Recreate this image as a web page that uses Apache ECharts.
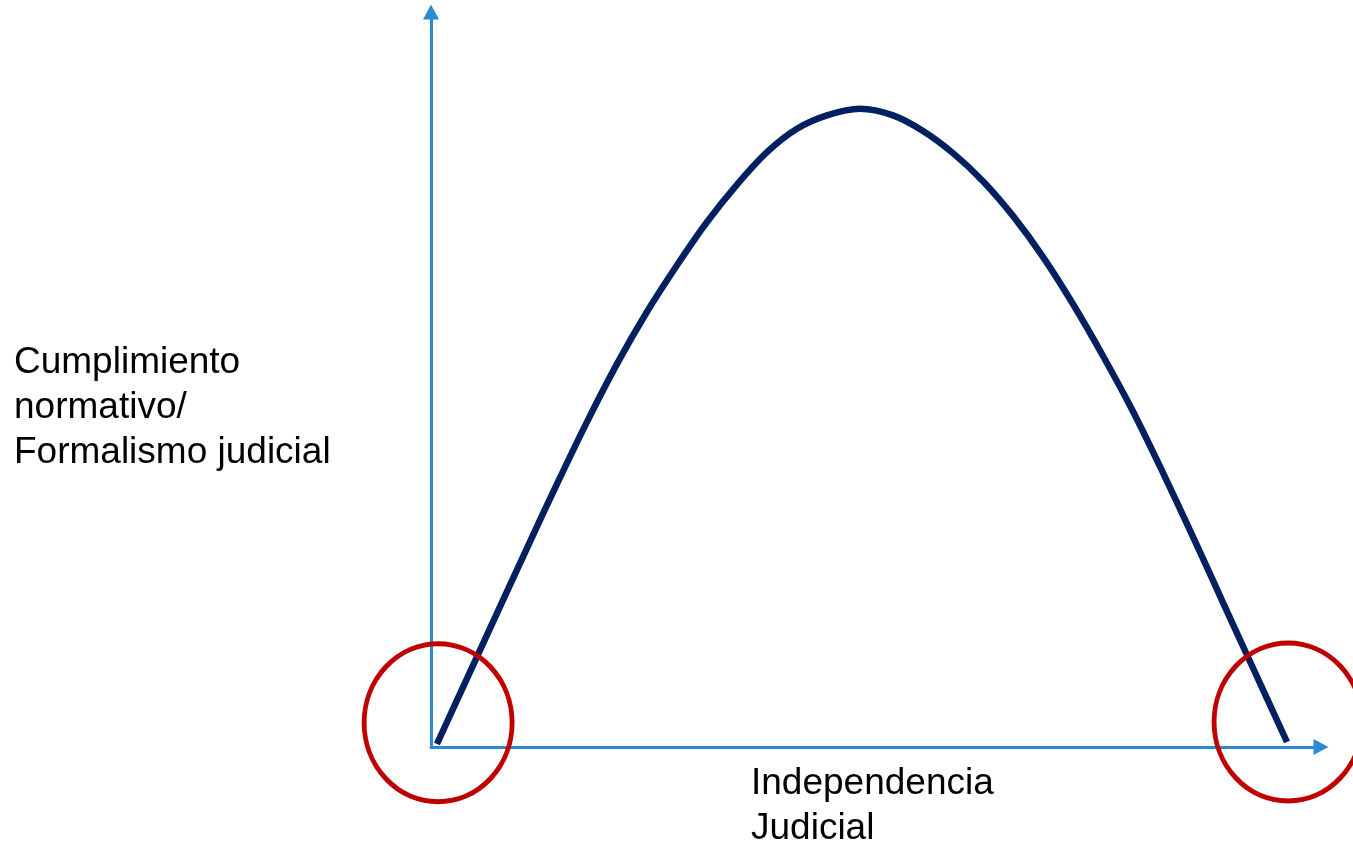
<!DOCTYPE html>
<html>
<head>
<meta charset="utf-8">
<script src="https://cdn.jsdelivr.net/npm/echarts@6/dist/echarts.min.js"></script>
<style>
  html, body { margin: 0; padding: 0; background: #fff; }
  #chart { width: 1353px; height: 842px; }
</style>
</head>
<body>
<div id="chart"></div>
<script>
// curve (x: independencia, y: cumplimiento), 0..100 scale
var curveX = [0.67, 4.04, 7.42, 10.79, 14.16, 17.53, 20.9, 24.27, 27.64, 31.01, 34.38, 37.75, 41.12, 44.49, 48.2,
              51.91, 55.28, 58.65, 62.02, 65.39, 68.76, 72.13, 75.51, 78.88, 82.25, 85.62, 88.99, 92.36, 96.18];
var curveY = [0.41, 9.31, 18.2, 27.06, 35.8, 44.24, 52.12, 59.22, 65.55, 71.43, 76.52, 80.93, 84.11, 85.93, 86.83,
              85.93, 83.81, 80.8, 76.98, 72.26, 66.69, 60.27, 53.2, 45.65, 37.3, 28.6, 19.65, 10.75, 0.68];

// red highlighted extremes
var markX = [0.8, 96.3];
var markY = [3.3, 3.4];

var yLabel = "Cumplimiento\nnormativo/\nFormalismo judicial";
var xLabel = "Independencia\nJudicial";

var myChart = echarts.init(document.getElementById("chart"));

var axisColor = "#2a8ad2";
var axisCommon = {
  type: "value",
  min: 0,
  max: 100,
  axisLine: {
    show: true,
    symbol: ["none", "triangle"],
    symbolSize: [16, 15],
    lineStyle: { color: axisColor, width: 3 },
  },
  axisTick: { show: false },
  axisLabel: { show: false },
  splitLine: { show: false },
};

var option = {
  animation: false,
  backgroundColor: "#fff",
  grid: { left: 431, right: 32, top: 12, bottom: 95 },
  xAxis: Object.assign({}, axisCommon),
  yAxis: Object.assign({}, axisCommon),
  graphic: [
    {
      type: "text",
      left: 14,
      top: 340,
      style: {
        text: yLabel,
        font: '37px "Liberation Sans", Arial, sans-serif',
        lineHeight: 45,
        fill: "#000",
      },
    },
    {
      type: "text",
      left: 751,
      top: 761,
      style: {
        text: xLabel,
        font: '37px "Liberation Sans", Arial, sans-serif',
        lineHeight: 45,
        fill: "#000",
      },
    },
  ],
  series: [
    {
      type: "line",
      data: curveX.map((x, i) => [x, curveY[i]]),
      smooth: 0.33,
      symbol: "none",
      lineStyle: { color: "#002060", width: 6.5, cap: "butt" },
      z: 3,
    },
    {
      type: "scatter",
      data: markX.map((x, i) => [x, markY[i]]),
      symbol: "circle",
      symbolSize: [148, 158],
      clip: false,
      itemStyle: { color: "rgba(0,0,0,0)", borderColor: "#c00000", borderWidth: 5, opacity: 1 },
      z: 4,
    },
  ],
};

myChart.setOption(option);
</script>
</body>
</html>
